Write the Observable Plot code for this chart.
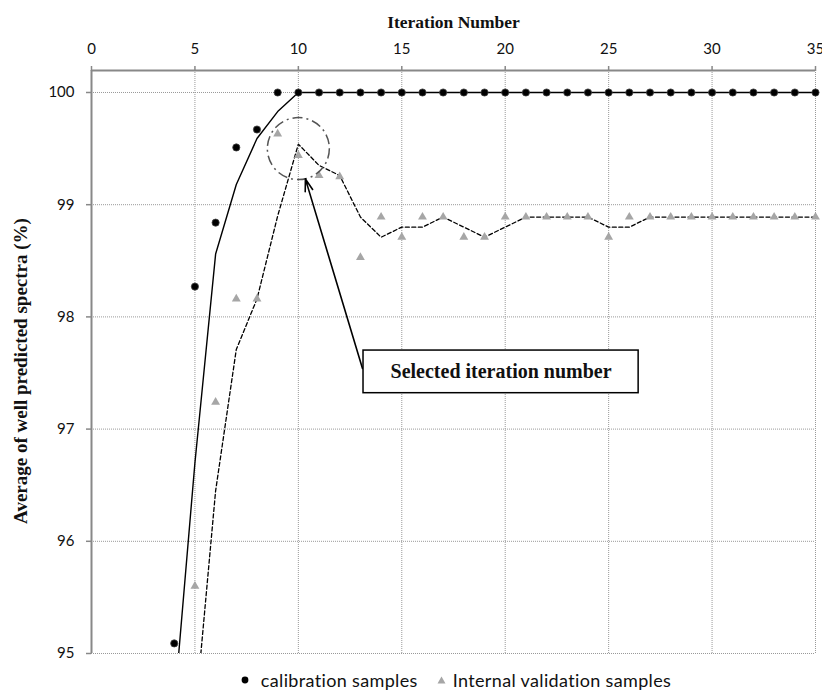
<!DOCTYPE html>
<html>
<head>
<meta charset="utf-8">
<script src="https://cdn.jsdelivr.net/npm/d3@7"></script>
<script src="https://cdn.jsdelivr.net/npm/@observablehq/plot@0.6"></script>
<style>
  html, body { margin: 0; background: #fff; overflow: hidden; }
  #chart svg { display: block; }
  g[aria-label="x-axis tick"], g[aria-label="y-axis tick"] { stroke: #888; stroke-width: 1.5; }
  #legend { display: flex; justify-content: center; align-items: center; margin-top: 9px;
            font-family: Lato, "Open Sans", sans-serif; font-size: 18px; line-height: 22px; letter-spacing: 0.35px; color: #111;
            height: 22px; padding-left: 90px; }
  #legend .item { display: flex; align-items: center; }
  #legend svg { margin-right: 12px; }
  #legend .tri { margin-right: 7px; }
  #legend .gap { width: 19px; }
</style>
</head>
<body>
<div id="chart"></div>
<div id="legend">
  <span class="item"><svg width="8" height="8"><circle cx="4" cy="4" r="3.4" fill="#000"/></svg>calibration samples</span>
  <span class="gap"></span>
  <span class="item"><svg class="tri" width="9" height="8"><polygon points="4.5,0.5 8.5,7.5 0.5,7.5" fill="#a6a6a6"/></svg>Internal validation samples</span>
</div>
<script>
// ---- data ----
const calibIter   = [4,5,6,7,8,9,10,11,12,13,14,15,16,17,18,19,20,21,22,23,24,25,26,27,28,29,30,31,32,33,34,35];
const calibValues = [95.09,98.27,98.84,99.51,99.67,100,100,100,100,100,100,100,100,100,100,100,100,100,100,100,100,100,100,100,100,100,100,100,100,100,100,100];

const validIter   = [5,6,7,8,9,10,11,12,13,14,15,16,17,18,19,20,21,22,23,24,25,26,27,28,29,30,31,32,33,34,35];
const validValues = [95.60,97.24,98.16,98.16,99.63,99.44,99.26,99.25,98.53,98.89,98.71,98.89,98.89,98.71,98.71,98.89,98.89,98.89,98.89,98.89,98.71,98.89,98.89,98.89,98.89,98.89,98.89,98.89,98.89,98.89,98.89];

const calibTrendIter = [4,5,6,7,8,9,10,11,12,13,14,15,16,17,18,19,20,21,22,23,24,25,26,27,28,29,30,31,32,33,34,35];
const calibTrend     = [94.53,96.70,98.56,99.18,99.59,99.83,100,100,100,100,100,100,100,100,100,100,100,100,100,100,100,100,100,100,100,100,100,100,100,100,100,100];

const validTrendIter = [5,6,7,8,9,10,11,12,13,14,15,16,17,18,19,20,21,22,23,24,25,26,27,28,29,30,31,32,33,34,35];
const validTrend     = [94.42,96.45,97.71,98.16,98.90,99.54,99.35,99.26,98.89,98.71,98.80,98.80,98.89,98.80,98.71,98.80,98.89,98.89,98.89,98.89,98.80,98.80,98.89,98.89,98.89,98.89,98.89,98.89,98.89,98.89,98.89];

const xTicks = [0,5,10,15,20,25,30,35];
const yTicks = [95,96,97,98,99,100];
const xDomain = [0,35];
const yDomain = [95,100.196];

const xTitle = "Iteration Number";
const yTitle = "Average of well predicted spectra (%)";

// annotations (data units)
const highlight = [{iter: 10, value: 99.5}];
const arrowNote = [{x1: 13.1, y1: 97.54, x2: 10.34, y2: 99.23}];
const boxNote   = [{x1: 13.15, x2: 26.45, y1: 97.32, y2: 97.70, label: "Selected iteration number"}];

// ---- build tables ----
const calib = calibIter.map((x, i) => ({x, y: calibValues[i]}));
const valid = validIter.map((x, i) => ({x, y: validValues[i]}));
const calibT = calibTrendIter.map((x, i) => ({x, y: calibTrend[i]}));
const validT = validTrendIter.map((x, i) => ({x, y: validTrend[i]}));

const serif = "'Liberation Serif', 'Times New Roman', serif";
const grid = {stroke: "#999", strokeOpacity: 1, strokeWidth: 1, strokeDasharray: "1,1"};

const chart = Plot.plot({
  width: 822,
  height: 660,
  marginLeft: 91,
  marginRight: 7,
  marginTop: 70,
  marginBottom: 7,
  style: {fontFamily: "Lato, 'Open Sans', sans-serif", fontSize: "15px", color: "#111", background: "#fff"},
  x: {domain: xDomain},
  y: {domain: yDomain},
  marks: [
    Plot.gridX(xTicks.slice(1), grid),
    Plot.gridY(yTicks, grid),
    Plot.ruleX([xDomain[0]], {stroke: "#888", strokeWidth: 2}),
    Plot.ruleY([yDomain[1]], {stroke: "#888", strokeWidth: 2}),
    Plot.axisX(xTicks, {anchor: "top", tickSize: 5, tickPadding: 12, label: null, tickFormat: d => String(d)}),
    Plot.axisY(yTicks, {anchor: "left", tickSize: 5, tickPadding: 12, label: null, tickFormat: d => String(d)}),
    Plot.text([xTitle], {text: d => d, frameAnchor: "top", textAnchor: "middle", lineAnchor: "middle", dy: -48, fontFamily: serif, fontWeight: "bold", fontSize: 17.5, fill: "#111"}),
    Plot.text([yTitle], {text: d => d, frameAnchor: "left", textAnchor: "middle", lineAnchor: "middle", rotate: -90, dx: -71, dy: 9, fontFamily: serif, fontWeight: "bold", fontSize: 19, fill: "#111"}),
    Plot.line(calibT, {x: "x", y: "y", stroke: "#000", strokeWidth: 1.4, clip: true}),
    Plot.line(validT, {x: "x", y: "y", stroke: "#000", strokeWidth: 1.3, strokeDasharray: "4,2.5", clip: true}),
    Plot.dot(valid, {x: "x", y: "y", symbol: "triangle", r: 3.3, fill: "#a6a6a6", stroke: "none"}),
    Plot.dot(calib, {x: "x", y: "y", r: 3.6, fill: "#000", stroke: "#444", strokeWidth: 0.8}),
    Plot.dot(highlight, {x: "iter", y: "value", r: 31, fill: "none", stroke: "#555", strokeWidth: 1.5, strokeDasharray: "10,4,2,4"}),
    Plot.arrow(arrowNote, {x1: "x1", y1: "y1", x2: "x2", y2: "y2", stroke: "#000", strokeWidth: 1.6, headLength: 12, headAngle: 35}),
    Plot.rect(boxNote, {x1: "x1", x2: "x2", y1: "y1", y2: "y2", fill: "#fff", stroke: "#000", strokeWidth: 1.5}),
    Plot.text(boxNote, {x: d => (d.x1 + d.x2) / 2, y: d => (d.y1 + d.y2) / 2, text: "label", fontFamily: serif, fontWeight: "bold", fontSize: 20, fill: "#111"})
  ]
});
document.getElementById("chart").append(chart);
</script>
</body>
</html>
